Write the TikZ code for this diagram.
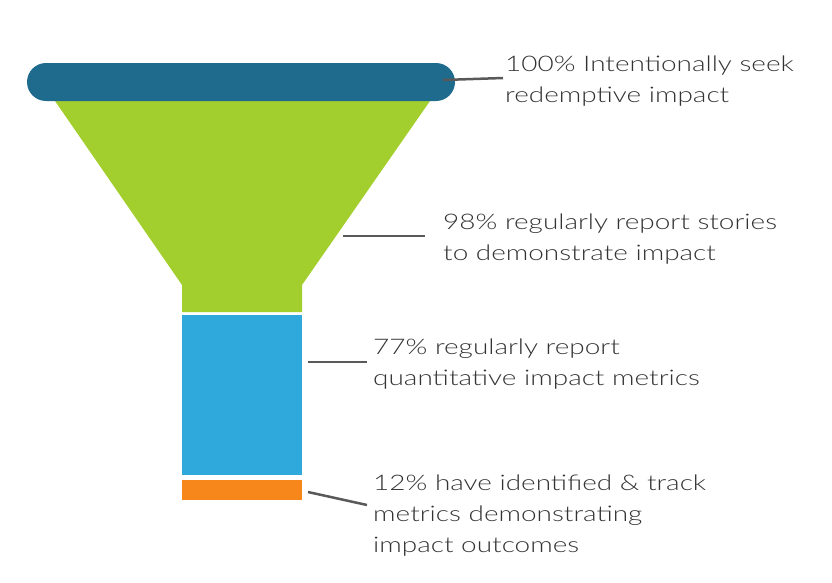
\documentclass[tikz,border=0pt]{standalone}
\usepackage{fontspec}
\setmainfont{Lato Light}[FakeStretch=1.3]
\begin{document}
\begin{tikzpicture}[x=1pt,y=-1pt,
  lbl/.style={anchor=north west,align=left,font=\fontsize{21.5}{31}\selectfont,text=black!80,inner sep=0pt},
  conn/.style={draw=black!65,line width=2.5pt}]
\useasboundingbox (0,0) rectangle (832,582);
\definecolor{dblue}{HTML}{1F6B8E}
\definecolor{lgreen}{HTML}{A3CF2E}
\definecolor{lblue}{HTML}{2FA9DC}
\definecolor{orng}{HTML}{F7861B}
\fill[lgreen] (55,101) -- (430,101) -- (302,285) -- (302,312) -- (182,312) -- (182,285) -- cycle;
\fill[dblue,rounded corners=19pt] (27,63) rectangle (455,101);
\fill[lblue] (182,315) rectangle (302,475);
\fill[orng] (182,480) rectangle (302,500);
\coordinate (c1) at (443,80); \coordinate (c2) at (343,236);
\coordinate (c3) at (308,362); \coordinate (c4) at (308,492);
\node[lbl] (t1) at (505,56) {100\% Intentionally seek\\redemptive impact};
\node[lbl] (t2) at (443,214) {98\% regularly report stories\\to demonstrate impact};
\node[lbl] (t3) at (373,339) {77\% regularly report\\quantitative impact metrics};
\node[lbl] (t4) at (373,475) {12\% have identified \& track\\metrics demonstrating\\impact outcomes};
\draw[conn] (c1) -- (503,78);
\draw[conn] (c2) -- (425,236);
\draw[conn] (c3) -- (367,362);
\draw[conn] (c4) -- (367,505);
\end{tikzpicture}
\end{document}
